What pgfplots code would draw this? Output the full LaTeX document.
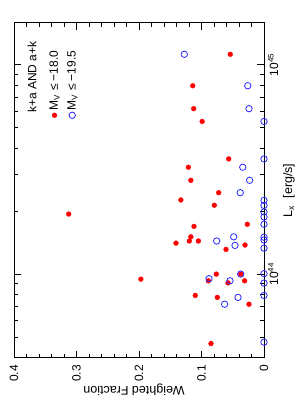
\documentclass[border=0pt,12pt]{standalone}
\usepackage{fontspec}
\setmainfont{Liberation Sans}
\usepackage{pgfplots}
\pgfplotsset{compat=1.18}
\definecolor{ptblue}{RGB}{40,40,255}
\definecolor{ptred}{RGB}{255,0,0}
\begin{document}
\begin{tikzpicture}
\useasboundingbox (-264pt,-41pt) rectangle (34pt,358pt);
\begin{scope}[rotate=90, transform shape]
\begin{axis}[
  at={(0,0)}, anchor=south west,
  width=335pt, height=250pt, scale only axis,
  xmode=log, xmin=3.98e43, xmax=1.585e45,
  ymin=0, ymax=0.4,
  xtick={1e44,1e45},
  xticklabels={10\textsuperscript{44},10\textsuperscript{45}},
  minor xtick={5e43,6e43,7e43,8e43,9e43,2e44,3e44,4e44,5e44,6e44,7e44,8e44,9e44},
  ytick={0,0.1,0.2,0.3,0.4},
  yticklabels={0,0.1,0.2,0.3,0.4},
  minor y tick num=4,
  tick align=inside,
  major tick length=7pt, minor tick length=4pt,
  axis line style={line width=0.8pt},
  every tick/.style={line width=0.6pt, black},
  /pgf/number format/assume math mode=true,
  tick label style={font=\fontsize{12}{14}\selectfont},
  yticklabel style={xshift=-3pt},
  xlabel={L\textsubscript{x}\ \ [erg/s]},
  ylabel={Weighted Fraction},
  label style={font=\fontsize{12.5}{14}\selectfont},
  xlabel style={at={(axis description cs:0.5,-0.1)}, anchor=center},
  ylabel style={at={(axis description cs:-0.0955,0.52)}, anchor=center},
  legend style={draw=none, fill=none, at={(rel axis cs:0.705,0.875)}, anchor=north west,
    font=\fontsize{12}{14}\selectfont, row sep=3.5pt},
  legend cell align=left,
]
\addplot[only marks, mark=*, mark size=2.4pt, color=ptred, fill=ptred] coordinates {
(1.122e45,0.054) (7.94e44,0.114) (6.17e44,0.1125) (5.36e44,0.099) (3.55e44,0.0565)
(3.24e44,0.121) (2.805e44,0.117) (2.449e44,0.0725) (2.26e44,0.133) (2.133e44,0.0795)
(1.936e44,0.3125) (1.690e44,0.112) (1.730e44,0.0267) (1.507e44,0.117) (1.406e44,0.1408)
(1.439e44,0.1195) (1.439e44,0.105) (1.377e44,0.0304) (1.312e44,0.0608) (9.46e43,0.197)
(1.0e44,0.0763) (1.0e44,0.0373) (9.29e43,0.089) (9.08e43,0.0576) (9.29e43,0.031)
(7.91e43,0.110) (7.74e43,0.0747) (7.18e43,0.024) (4.66e43,0.0848)
};
\addlegendentry{M\textsubscript{V} ≤ −18.0}
\addplot[only marks, mark=o, mark size=3.2pt, color=ptblue, line width=0.8pt] coordinates {
(1.122e45,0.1275) (7.94e44,0.026) (6.17e44,0.024) (5.36e44,0) (3.55e44,0)
(3.24e44,0.034) (2.805e44,0.023) (2.449e44,0.038) (2.249e44,0) (2.128e44,0)
(1.982e44,0) (1.875e44,0) (1.730e44,0) (1.507e44,0.0485) (1.439e44,0.0757)
(1.371e44,0.0464) (1.50e44,0) (1.455e44,0) (1.330e44,0) (1.0e44,0.0373)
(9.51e43,0.088) (9.29e43,0.0544) (1.005e44,0) (9.06e43,0) (7.74e43,0.0416)
(7.91e43,0) (7.18e43,0.063) (4.73e43,0)
};
\addlegendentry{M\textsubscript{V} ≤ −19.5}
\node[anchor=west, font=\fontsize{12}{14}\selectfont, inner sep=0pt] at (rel axis cs:0.731,0.928) {k+a AND a+k};
\end{axis}
\end{scope}
\end{tikzpicture}
\end{document}
